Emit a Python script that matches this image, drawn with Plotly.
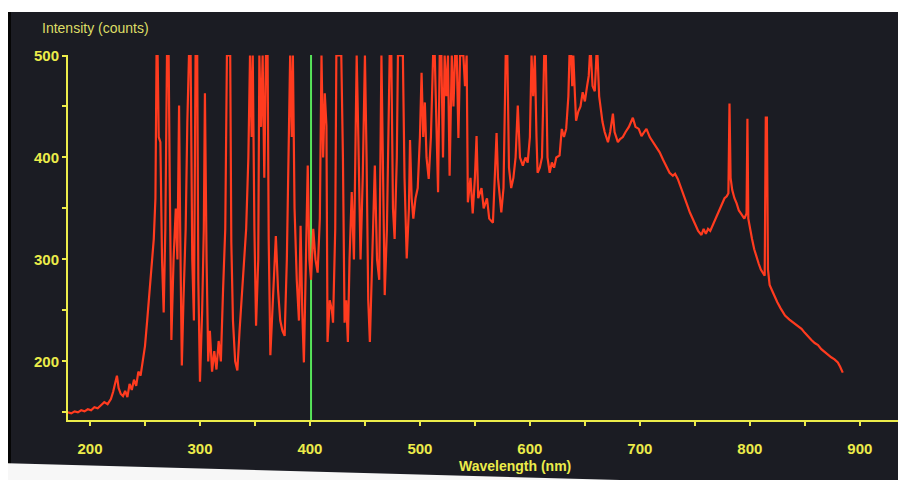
import plotly.graph_objects as go

# ---- data (wavelength in nm, intensity in counts) ----
uv_wl = [180, 183, 186, 189, 192, 195, 198, 201, 204, 207, 210, 213, 216, 219, 221, 223, 224.5, 226, 228, 230,
         232, 234, 236, 238, 240, 242, 244, 246, 248, 250, 252, 254, 256, 258]
uv_counts = [150, 149, 151, 150, 152, 151, 153, 152, 155, 154, 157, 160, 158, 163, 170, 178, 186, 174, 168, 166,
             171, 165, 178, 172, 182, 176, 190, 186, 200, 215, 240, 265, 290, 320]

violet_wl = [259.5, 260.5, 261.5, 262.5, 264, 265.5, 267, 268.5, 270, 271.5, 272.5, 274, 276, 278, 279.5, 281, 282,
             283.5, 285, 287, 288.5, 290, 291.5, 293, 294.5, 296, 297.5, 298.5, 300, 302, 303.5, 304.5, 306, 307.5,
             309, 311, 313, 315, 317, 319, 321, 323, 324.5, 326, 327.5, 328.5, 330, 332, 334, 336, 338, 340, 342,
             344, 345.5, 347, 348, 349.5, 351, 353, 354, 355.5, 357, 358.5, 360, 361.5, 362.5, 364, 366, 367.5, 369,
             371, 373, 375, 377, 379, 381, 382, 383.5, 384.5, 386, 388, 390, 391.5, 393, 394.5, 396, 398, 399.5]
violet_counts = [360, 500, 500, 420, 415, 300, 248, 330, 500, 500, 380, 221, 300, 350, 300, 451, 330,
                 196, 260, 330, 434, 500, 500, 300, 240, 500, 500, 280, 180, 250, 330, 463, 300, 200,
                 230, 190, 210, 192, 220, 200, 270, 330, 500, 500, 500, 317, 240, 200, 191, 230, 260, 300, 330,
                 400, 500, 420, 500, 330, 235, 300, 500, 430, 500, 380, 500, 500, 320, 206, 250, 290, 323,
                 270, 240, 230, 225, 300, 450, 500, 420, 500, 350, 280, 240, 333, 250, 199, 280, 392, 300]

blue_wl = [401, 403, 405, 407, 409, 410.5, 412, 413.5, 415, 416, 418, 420, 421, 423, 424, 425.5, 427, 428.5, 430,
           431.5, 433, 434.5, 436, 438, 440, 441.5, 442.5, 444, 446, 448, 450, 451.5, 453, 454.5, 456.5, 459, 461,
           463, 465, 466.5, 468, 470, 472.5, 474, 475.5, 477, 479, 480, 481.5, 483, 484.5, 486, 488, 490, 491,
           492.5, 494, 496, 498, 500, 501.5, 503, 504.5, 506, 508, 510, 512, 513.5, 515, 516.5, 518, 519.5]
blue_counts = [280, 330, 300, 287, 340, 500, 400, 463, 431, 219, 260, 250, 238, 330, 500, 500, 500, 500, 400,
               238, 260, 219, 300, 366, 300, 400, 500, 420, 300, 380, 500, 400, 260, 219, 300, 392, 300,
               280, 500, 400, 265, 330, 500, 500, 350, 320, 400, 500, 500, 500, 500, 380, 301, 350, 417,
               360, 340, 360, 370, 420, 483, 420, 454, 400, 379, 420, 500, 500, 420, 366, 500, 500]

green_wl = [521, 522.5, 524, 525.5, 527, 529, 530.5, 532, 533.5, 535, 536.5, 538, 539.5, 541, 542.5, 543.6, 546,
            548, 550, 551.5, 553, 556, 558, 561, 563, 566.4, 568, 569.7, 571, 574, 576, 578, 579.5, 581, 583, 585,
            587, 589, 591, 593.6, 596, 598, 600, 601.5, 603, 604.5, 606, 607, 609, 611, 613, 614.5, 616, 618, 620,
            622, 624, 627, 629, 631, 633, 635, 636, 637.5, 638.5, 639.5, 641, 642, 644, 646, 648, 650, 652, 653.5,
            654.5, 655.5, 657, 659, 660.5, 661.5]
green_counts = [400, 500, 460, 500, 382, 500, 450, 500, 500, 419, 500, 500, 500, 470, 500, 356, 380,
                345, 380, 421, 360, 370, 350, 360, 340, 336, 380, 424, 380, 346, 370, 500, 500, 390, 370, 380,
                400, 451, 400, 392, 400, 395, 420, 500, 460, 500, 420, 385, 390, 400, 500, 500, 400, 385, 395,
                390, 400, 402, 428, 420, 428, 460, 500, 500, 470, 500, 460, 436, 445, 450, 464, 455, 470, 480,
                500, 500, 470, 465, 500, 500]

red_wl = [663, 664.5, 666, 668, 671, 673, 675.5, 677, 680, 682, 684.5, 687, 690, 693.6, 696, 699, 701.5, 704, 706,
          709, 712, 715, 718, 721, 724, 727, 730, 732, 734.5, 737, 739, 741, 743.5, 745.5, 748, 751, 753, 756, 758,
          760, 762, 764, 767, 770, 773, 775, 777, 779, 780.5, 781.5, 782.5, 784, 786, 788, 790, 792, 793.5, 795,
          797, 797.8, 798.6, 800, 802, 804, 806, 808, 810, 812, 813.5, 814.5, 815.5, 816.5, 818, 820, 822, 825,
          828, 832, 836, 840, 844, 847, 850, 853, 856, 859, 862, 865, 868, 871, 874, 877, 880, 882, 884.5]
red_counts = [460, 444, 435, 425, 415, 425, 443, 425, 415, 418, 420, 425, 430, 439, 430, 428, 421, 425, 428,
              420, 415, 410, 405, 398, 392, 385, 382, 384, 379, 372, 366, 360, 352, 346, 340, 333, 328, 324, 330,
              325, 330, 328, 335, 343, 350, 355, 360, 362, 365, 453, 380, 368, 360, 355, 348, 345, 343, 340,
              345, 438, 340, 330, 320, 310, 302, 296, 290, 287, 284, 439, 439, 290, 275, 270, 265, 258,
              252, 245, 241, 238, 235, 232, 228, 224, 221, 218, 216, 212, 209, 206, 204, 202, 199, 195, 189]

marker_nm = 401          # green cursor line
x_ticks = [200, 300, 400, 500, 600, 700, 800, 900]
y_ticks = [200, 300, 400, 500]

wavelength = uv_wl + violet_wl + blue_wl + green_wl + red_wl
counts = uv_counts + violet_counts + blue_counts + green_counts + red_counts

# ---- styling ----
BG = "#1b1c23"
YEL = "#ecec4a"
RED = "#ff3b1f"
GREEN = "#57e35a"
OFF = 8                    # page body margin
W, H = 906 - OFF, 480 - OFF
L, T, B = 68 - OFF, 55 - OFF, 60
PW, PH = W - L, H - T - B
FONT = "Arial, Liberation Sans, sans-serif"


def px(xs):
    """screen x pixel -> paper coordinate"""
    return (xs - OFF - L) / PW


def py(ys):
    """screen y pixel -> paper coordinate"""
    return (H - B - (ys - OFF)) / PH


fig = go.Figure()
fig.add_trace(go.Scatter(x=wavelength, y=counts, mode="lines",
                         line=dict(color=RED, width=2.2), hoverinfo="x+y", showlegend=False))
fig.add_vline(x=marker_nm, line=dict(color=GREEN, width=2), layer="below")

axis_common = dict(showline=True, linecolor=YEL, linewidth=2, showgrid=False, zeroline=False,
                   ticks="outside", tickcolor=YEL, tickwidth=2, ticklen=4,
                   tickfont=dict(family=FONT, size=15, color=YEL, weight="bold"))

fig.update_xaxes(range=[180, 942], tickvals=x_ticks, ticktext=[str(v) for v in x_ticks],
                 minor=dict(dtick=50, ticks="outside", ticklen=4, tickwidth=2, tickcolor=YEL),
                 ticklabelstandoff=10, **axis_common)
fig.update_yaxes(range=[142.5, 500.5], tickvals=y_ticks, ticktext=[str(v) for v in y_ticks],
                 minor=dict(dtick=50, ticks="outside", ticklen=4, tickwidth=2, tickcolor=YEL),
                 ticklabelstandoff=0, **axis_common)

shapes = [
    # photo frame: white strip at top, black strip at left, white wedge at bottom
    dict(type="rect", xref="paper", yref="paper", x0=px(0), x1=px(906), y0=py(12), y1=py(0),
         fillcolor="#ffffff", line_width=0, layer="below"),
    dict(type="rect", xref="paper", yref="paper", x0=px(0), x1=px(11), y0=py(470), y1=py(12),
         fillcolor="#050505", line_width=0, layer="below"),
    dict(type="path", xref="paper", yref="paper",
         path=f"M {px(0)},{py(463)} L {px(620)},{py(480)} L {px(0)},{py(480)} Z",
         fillcolor="#f7f7f7", line_width=0, layer="below"),
]
for s in shapes:
    fig.add_shape(**s)

fig.add_annotation(text="Intensity (counts)", xref="paper", yref="paper", x=px(40), y=py(28),
                   xanchor="left", yanchor="middle", showarrow=False,
                   font=dict(family=FONT, size=14, color="#dede66"))
fig.add_annotation(text="Wavelength (nm)", xref="paper", yref="paper", x=px(515), y=py(466),
                   xanchor="center", yanchor="middle", showarrow=False,
                   font=dict(family=FONT, size=14, color=YEL, weight="bold"))

fig.update_layout(width=W, height=H, margin=dict(l=L, r=0, t=T, b=B),
                  paper_bgcolor=BG, plot_bgcolor=BG, showlegend=False)

fig.write_html("out.html")
